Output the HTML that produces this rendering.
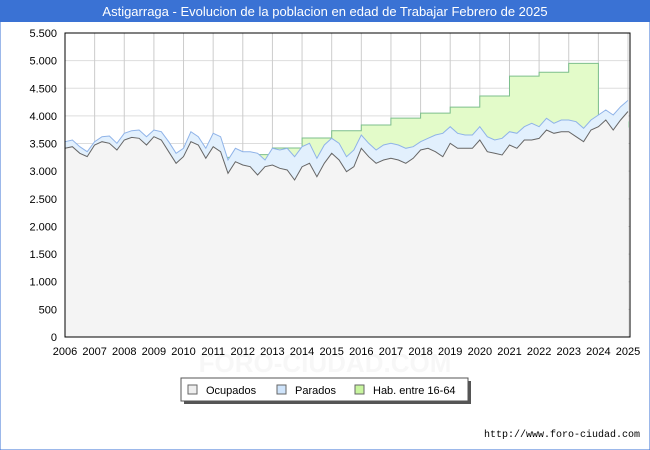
<!DOCTYPE html>
<html><head><meta charset="utf-8"><style>
body{margin:0;background:#fff;font-family:"Liberation Sans","DejaVu Sans",sans-serif;}
#wrap{position:relative;width:650px;height:450px;overflow:hidden;}
</style></head><body>
<div id="wrap">
<svg id="chart" width="650" height="450" xmlns="http://www.w3.org/2000/svg">
<rect x="0" y="0" width="650" height="450" fill="#fff" stroke="#3a72d4" stroke-width="1"/>
<rect x="0" y="0" width="650" height="22" fill="#3a72d4"/>
<text x="325" y="16" text-anchor="middle" font-size="13" fill="#fff">Astigarraga - Evolucion de la poblacion en edad de Trabajar Febrero de 2025</text>
<text x="325" y="372" text-anchor="middle" font-size="26" font-weight="bold" fill="#f7f7f7">FORO-CIUDAD.COM</text>
<g id="grid"></g>
<g id="series"></g>
<rect x="65" y="33" width="565" height="304" fill="none" stroke="#000" stroke-width="1"/>
<g id="axes"></g>
<g>
<rect x="184" y="381" width="287" height="23" fill="#555"/>
<rect x="181" y="378" width="287" height="23" fill="#fff" stroke="#555"/>
<g><rect x="188" y="385" width="9" height="9" fill="#eee" stroke="#666"/><text x="206" y="394" font-size="11">Ocupados</text></g>
<g><rect x="277" y="385" width="9" height="9" fill="#cfe4fb" stroke="#666"/><text x="295" y="394" font-size="11">Parados</text></g>
<g><rect x="355" y="385" width="9" height="9" fill="#c8f59e" stroke="#666"/><text x="373" y="394" font-size="11">Hab. entre 16-64</text></g>
</g>
<text x="640" y="437" text-anchor="end" font-size="10" font-family="Liberation Mono, monospace">http://www.foro-ciudad.com</text>
</svg>
</div>
<script>
const years=[2006,2007,2008,2009,2010,2011,2012,2013,2014,2015,2016,2017,2018,2019,2020,2021,2022,2023,2024,2025];
const yTicks=[0,500,1000,1500,2000,2500,3000,3500,4000,4500,5000,5500];
const yTickLabels=["0","500","1.000","1.500","2.000","2.500","3.000","3.500","4.000","4.500","5.000","5.500"];
const hab=[3250,3250,3250,3250,3250,3250,3300,3420,3600,3730,3835,3960,4050,4160,4360,4720,4790,4950,3800,3900];
// quarterly, starting 2006.0
const parados=[3534,3564,3443,3353,3534,3624,3637,3504,3685,3733,3745,3624,3745,3715,3534,3323,3414,3715,3624,3414,
3685,3624,3202,3414,3353,3353,3323,3202,3414,3383,3414,3262,3443,3504,3233,3474,3595,3504,3262,3383,
3655,3504,3383,3474,3504,3474,3414,3443,3534,3595,3655,3685,3805,3685,3655,3655,3805,3624,3564,3595,
3715,3685,3805,3866,3805,3956,3866,3926,3926,3896,3776,3926,4017,4107,4017,4167,4280];
const ocupados=[3414,3443,3323,3263,3474,3534,3504,3383,3564,3612,3594,3474,3624,3564,3353,3142,3263,3534,3474,3233,
3443,3353,2962,3172,3112,3081,2931,3081,3112,3052,3021,2841,3081,3142,2900,3142,3323,3202,2991,3081,
3414,3262,3142,3202,3233,3202,3142,3233,3383,3414,3353,3262,3504,3414,3414,3414,3564,3353,3323,3293,
3474,3414,3564,3564,3593,3745,3685,3715,3715,3624,3534,3745,3805,3926,3745,3926,4080];
const NS='http://www.w3.org/2000/svg';
const X0=65,X1=628,Y0=337,Y1=33;
function xs(t){return X0+(t-2006)*(X1-X0)/19;}
function ys(v){return Y0-v*(Y0-Y1)/5500;}
function mk(tag,attrs,parent){const e=document.createElementNS(NS,tag);for(const k in attrs)e.setAttribute(k,attrs[k]);parent.appendChild(e);return e;}
const grid=document.getElementById('grid'),axes=document.getElementById('axes'),ser=document.getElementById('series');
yTicks.forEach((v,i)=>{
 const l=mk('line',{x1:65,x2:630,y1:ys(v),y2:ys(v),stroke:'#ddd','stroke-width':1},grid);
 
 
 const t=mk('text',{x:57,y:ys(v)+4,'text-anchor':'end','font-size':11},axes);
 t.textContent=yTickLabels[i];
 
 
});
years.forEach(y=>{
 const l=mk('line',{x1:xs(y),x2:xs(y),y1:33,y2:337,stroke:'#ccc','stroke-width':1},grid);
 
 
 const t=mk('text',{x:xs(y),y:355,'text-anchor':'middle','font-size':11},axes);
 t.textContent=String(y);
 
 
});
const tEnd=2006+(parados.length-1)*0.25;
let hp=[];
hab.forEach((v,i)=>{const t0=years[i],t1=Math.min(years[i]+1,tEnd);if(t0>tEnd)return;hp.push([xs(t0),ys(v)],[xs(t1),ys(v)]);});
function area(pts,fill,stroke,name){
 const d='M'+pts[0][0]+','+Y0+' '+pts.map(p=>'L'+p[0].toFixed(1)+','+p[1].toFixed(1)).join(' ')+' L'+pts[pts.length-1][0]+','+Y0+'Z';
 const a=mk('path',{d:d,fill:fill},ser);
 
 
 const ln=mk('path',{d:'M'+pts.map(p=>p[0].toFixed(1)+','+p[1].toFixed(1)).join(' L'),fill:'none',stroke:stroke,'stroke-width':1},ser);
 
 
}
area(hp,'#e3fbc9','#7dbf8c','hab');
const qp=parados.map((v,i)=>[xs(2006+i*0.25),ys(v)]);
area(qp,'#e2f0fd','#8fb3e8','parados');
const qo=ocupados.map((v,i)=>[xs(2006+i*0.25),ys(v)]);
area(qo,'#f4f4f4','#666','ocupados');
</script>
</body></html>
